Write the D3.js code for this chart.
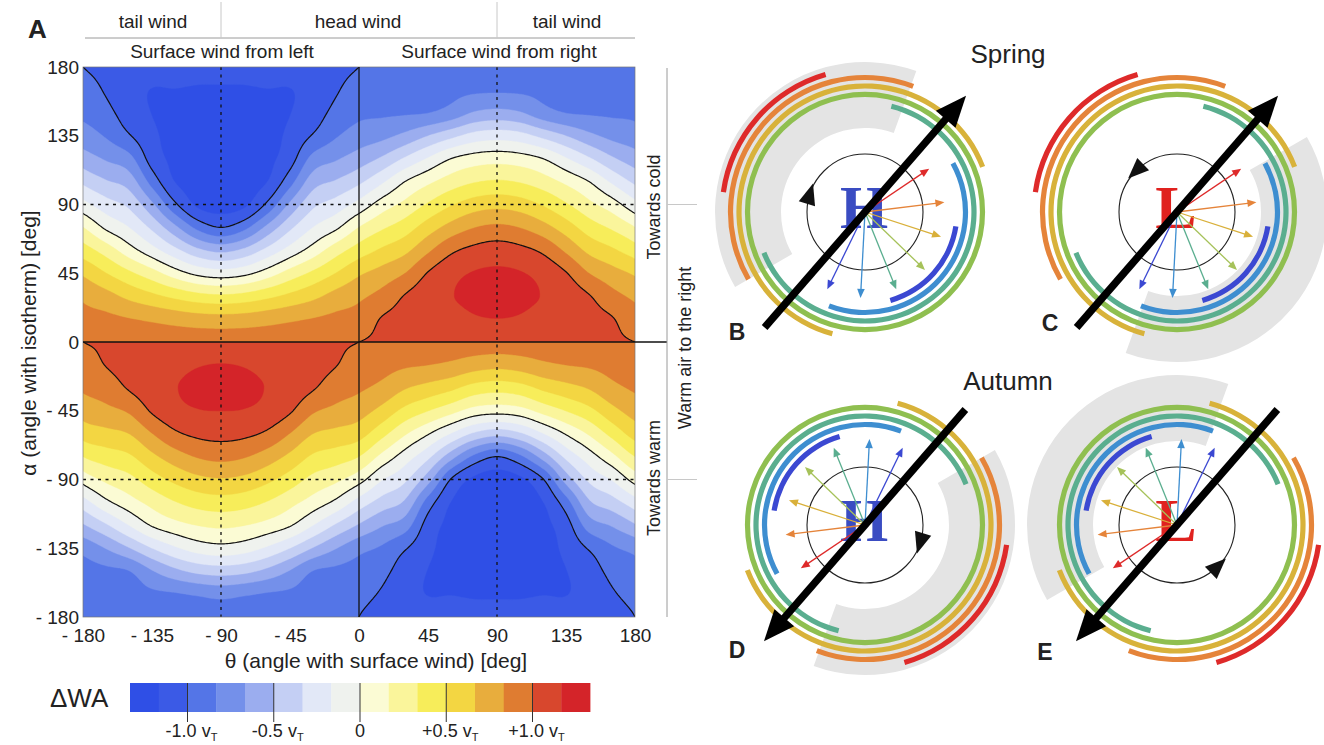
<!DOCTYPE html>
<html><head><meta charset="utf-8">
<script src="https://cdn.jsdelivr.net/npm/d3@7"></script>
<style>body{margin:0;background:#fff}svg{display:block}text{font-family:"Liberation Sans",Arial,sans-serif;fill:#222}</style>
</head><body><svg id="fig" width="1324" height="745"></svg>
<script>
// ---------------- DATA ----------------
const thetaTicks=[-180,-135,-90,-45,0,45,90,135,180];
const alphaTicks=[180,135,90,45,0,-45,-90,-135,-180];
const thetaGrid=d3.range(-180,181,15);           // 25 columns
const alphaGrid=[0,15,30,45,60,75,90,105,120,135,150,165,180];
// dWA (units of vT); one array per theta column, values at alpha = +alphaGrid (towards cold)
const dwaTowardsCold=[
[1.0,0.90,0.80,0.64,0.41,0.17,-0.11,-0.37,-0.59,-0.76,-0.87,-0.93,-1.00],
[0.975,0.874,0.726,0.503,0.258,-0.03,-0.263,-0.485,-0.685,-0.849,-0.951,-1.017,-1.05],
[0.96,0.839,0.623,0.366,0.072,-0.167,-0.373,-0.577,-0.78,-0.986,-1.08,-1.12,-1.10],
[0.943,0.805,0.539,0.233,-0.102,-0.371,-0.635,-0.898,-1.07,-1.13,-1.17,-1.17,-1.11],
[0.93,0.768,0.458,0.078,-0.287,-0.628,-0.97,-1.17,-1.21,-1.23,-1.21,-1.17,-1.11],
[0.923,0.739,0.389,-0.045,-0.464,-0.884,-1.2,-1.23,-1.255,-1.26,-1.235,-1.18,-1.125],
[0.92,0.729,0.361,-0.091,-0.545,-1.0,-1.24,-1.25,-1.265,-1.265,-1.24,-1.18,-1.13],
[0.923,0.739,0.389,-0.045,-0.464,-0.884,-1.2,-1.23,-1.255,-1.26,-1.235,-1.18,-1.125],
[0.93,0.768,0.458,0.078,-0.287,-0.628,-0.97,-1.17,-1.21,-1.23,-1.21,-1.17,-1.11],
[0.943,0.805,0.539,0.233,-0.102,-0.371,-0.635,-0.898,-1.07,-1.13,-1.17,-1.17,-1.11],
[0.96,0.839,0.623,0.366,0.072,-0.167,-0.373,-0.577,-0.78,-0.986,-1.08,-1.12,-1.10],
[0.975,0.874,0.726,0.503,0.258,-0.03,-0.263,-0.485,-0.685,-0.849,-0.951,-1.017,-1.05],
[1.0,0.90,0.80,0.64,0.41,0.17,-0.11,-0.37,-0.59,-0.76,-0.87,-0.93,-1.00],
[1.02,1.01,0.886,0.729,0.526,0.307,0.077,-0.197,-0.476,-0.713,-0.858,-0.916,-0.974],
[1.03,1.05,1.01,0.833,0.625,0.417,0.208,0.0,-0.313,-0.625,-0.85,-0.9,-0.95],
[1.047,1.1,1.1,1.01,0.804,0.582,0.351,0.13,-0.153,-0.502,-0.836,-0.884,-0.933],
[1.06,1.12,1.16,1.12,0.967,0.727,0.483,0.242,0.0,-0.384,-0.77,-0.873,-0.92],
[1.09,1.155,1.195,1.175,1.044,0.828,0.58,0.32,0.075,-0.273,-0.654,-0.86,-0.92],
[1.1,1.165,1.21,1.19,1.078,0.866,0.614,0.35,0.1,-0.238,-0.616,-0.855,-0.92],
[1.09,1.155,1.195,1.175,1.044,0.828,0.58,0.32,0.075,-0.273,-0.654,-0.86,-0.92],
[1.06,1.12,1.16,1.12,0.967,0.727,0.483,0.242,0.0,-0.384,-0.77,-0.873,-0.92],
[1.047,1.1,1.1,1.01,0.804,0.582,0.351,0.13,-0.153,-0.502,-0.836,-0.884,-0.933],
[1.03,1.05,1.01,0.833,0.625,0.417,0.208,0.0,-0.313,-0.625,-0.85,-0.9,-0.95],
[1.02,1.01,0.886,0.729,0.526,0.307,0.077,-0.197,-0.476,-0.713,-0.858,-0.916,-0.974],
[1.0,0.90,0.80,0.64,0.41,0.17,-0.11,-0.37,-0.59,-0.76,-0.87,-0.93,-1.00]];
// values at alpha = -alphaGrid (towards warm)
const dwaTowardsWarm=[
[1.0,0.93,0.857,0.735,0.564,0.333,0.063,-0.241,-0.519,-0.784,-0.9,-0.96,-1.0],
[1.016,1.005,0.911,0.79,0.617,0.415,0.2,-0.041,-0.357,-0.661,-0.87,-0.93,-0.96],
[1.04,1.06,1.015,0.855,0.667,0.474,0.283,0.095,-0.167,-0.511,-0.837,-0.9,-0.92],
[1.065,1.1,1.1,1.02,0.829,0.626,0.421,0.216,0.014,-0.335,-0.679,-0.864,-0.92],
[1.084,1.13,1.16,1.12,0.971,0.755,0.54,0.323,0.108,-0.193,-0.546,-0.847,-0.92],
[1.096,1.16,1.2,1.16,1.035,0.846,0.622,0.398,0.17,-0.093,-0.459,-0.815,-0.92],
[1.1,1.17,1.21,1.167,1.053,0.879,0.652,0.424,0.197,-0.056,-0.428,-0.786,-0.92],
[1.096,1.16,1.2,1.16,1.035,0.846,0.622,0.398,0.17,-0.093,-0.459,-0.815,-0.92],
[1.084,1.13,1.16,1.12,0.971,0.755,0.54,0.323,0.108,-0.193,-0.546,-0.847,-0.92],
[1.065,1.1,1.1,1.02,0.829,0.626,0.421,0.216,0.014,-0.335,-0.679,-0.864,-0.92],
[1.04,1.06,1.015,0.855,0.667,0.474,0.283,0.095,-0.167,-0.511,-0.837,-0.9,-0.92],
[1.016,1.005,0.911,0.79,0.617,0.415,0.2,-0.041,-0.357,-0.661,-0.87,-0.93,-0.96],
[1.0,0.93,0.857,0.735,0.564,0.333,0.063,-0.241,-0.519,-0.784,-0.9,-0.96,-1.0],
[0.974,0.893,0.79,0.613,0.385,0.118,-0.157,-0.405,-0.655,-0.857,-0.954,-1.017,-1.05],
[0.96,0.854,0.679,0.45,0.185,-0.08,-0.303,-0.53,-0.758,-0.985,-1.08,-1.12,-1.1],
[0.943,0.834,0.608,0.337,0.014,-0.293,-0.599,-0.907,-1.07,-1.13,-1.17,-1.17,-1.11],
[0.93,0.8,0.536,0.221,-0.175,-0.599,-1.01,-1.17,-1.21,-1.23,-1.21,-1.17,-1.11],
[0.923,0.743,0.433,0.099,-0.36,-0.869,-1.2,-1.23,-1.255,-1.26,-1.235,-1.18,-1.125],
[0.92,0.714,0.396,0.063,-0.444,-1.0,-1.24,-1.25,-1.265,-1.265,-1.24,-1.18,-1.13],
[0.923,0.743,0.433,0.099,-0.36,-0.869,-1.2,-1.23,-1.255,-1.26,-1.235,-1.18,-1.125],
[0.93,0.8,0.536,0.221,-0.175,-0.599,-1.01,-1.17,-1.21,-1.23,-1.21,-1.17,-1.11],
[0.943,0.834,0.608,0.337,0.014,-0.293,-0.599,-0.907,-1.07,-1.13,-1.17,-1.17,-1.11],
[0.96,0.854,0.679,0.45,0.185,-0.08,-0.303,-0.53,-0.758,-0.985,-1.08,-1.12,-1.1],
[0.974,0.893,0.79,0.613,0.385,0.118,-0.157,-0.405,-0.655,-0.857,-0.954,-1.017,-1.05],
[1.0,0.93,0.857,0.735,0.564,0.333,0.063,-0.241,-0.519,-0.784,-0.9,-0.96,-1.0]];
const bandColors=["#2f4fe6","#3b5ae6","#5475e7","#7490ea","#9badef","#c4cff4","#e2e8f7","#eff2ee","#fbfbd4","#faf59b","#f7ed5a","#f3d642","#e8ad3d","#df7c31","#d8472d","#d42429"];
const colorbarTicks=[-1,-0.5,0,0.5,1];
const colorbarLabels=["-1.0 v","-0.5 v","0","+0.5 v","+1.0 v"];
// diagrams
const ringColors=["#3b48d2","#3e8ed0","#5aae8f","#8fbf50","#d8b23a","#e5843a","#de2a2a"];
const arrowColors=["#3b48d2","#3e8ed0","#5aae8f","#a6c25a","#d9b03a","#e5843a","#de2a2a"];
const springRingFrom=[-74,-111,-158,0,21,69,106];
const springRingTo=[-9,29,76,360,255,210,172];
const autumnRingFrom=[106,69,22,0,201,249,286];
const autumnRingTo=[171,209,256,360,435,390,352];
const springArrowDir=[-116,-93,-68,-44,-18,7,34];
const autumnArrowDir=[64,87,112,136,162,187,214];
const arrowMag=[1.0,1.0,0.97,0.97,0.93,0.93,0.9];
const flightDir={spring:49,autumn:229};
const panelInfo=[
 {id:"B",season:"spring",letter:"H",grayFrom:70,grayTo:210,spin:"cw",spinAt:163},
 {id:"C",season:"spring",letter:"L",grayFrom:-110,grayTo:30,spin:"ccw",spinAt:134},
 {id:"D",season:"autumn",letter:"H",grayFrom:-110,grayTo:30,spin:"cw",spinAt:343},
 {id:"E",season:"autumn",letter:"L",grayFrom:70,grayTo:210,spin:"ccw",spinAt:314}];

// ---------------- LAYOUT ----------------
const W=1324,H=745;
const P={left:83,right:635,top:67,bottom:617};
const layout={B:[865,212,737,340],C:[1177,212,1050,331],D:[865,525,737,658],E:[1177,525,1045,660]};
const svg=d3.select("#fig");
svg.append("rect").attr("width",W).attr("height",H).attr("fill","#fff");
const x=d3.scaleLinear().domain([-180,180]).range([P.left,P.right]);
const y=d3.scaleLinear().domain([-180,180]).range([P.bottom,P.top]);

// smooth (Catmull-Rom) resampling of the read grid
const cr=(p0,p1,p2,p3,t)=>0.5*(2*p1+(-p0+p2)*t+(2*p0-5*p1+4*p2-p3)*t*t+(-p0+3*p1-3*p2+p3)*t*t*t);
function sample(cols,th,a){
  const dT=thetaGrid[1]-thetaGrid[0],dA=alphaGrid[1]-alphaGrid[0];
  const nC=thetaGrid.length-1,nR=alphaGrid.length-1;
  const u=(th-thetaGrid[0])/dT;let j=Math.min(Math.floor(u),nC-1);const tu=u-j;
  const v=(a-alphaGrid[0])/dA;let i=Math.min(Math.floor(v),nR-1);const tv=v-i;
  const c=k=>((k%nC)+nC)%nC,r=k=>Math.max(0,Math.min(nR,k));
  const rv=rr=>cr(cols[c(j-1)][rr],cols[c(j)][rr],cols[c(j+1)][rr],cols[c(j+2)][rr],tu);
  return cr(rv(r(i-1)),rv(r(i)),rv(r(i+1)),rv(r(i+2)),tv);
}
const NX=361,NY=181;
function field(cols,alphaOfRow){const v=new Float64Array(NX*NY);for(let k=0;k<NY;k++){const a=alphaOfRow(k);for(let i=0;i<NX;i++)v[k*NX+i]=sample(cols,-180+i*360/(NX-1),a);}return v;}
const upperVals=field(dwaTowardsCold,k=>180-k*180/(NY-1));
const lowerVals=field(dwaTowardsWarm,k=>k*180/(NY-1));
const levels=d3.range(-7,8).map(k=>k/6);
const defs=svg.append("defs");
defs.append("clipPath").attr("id","cu").append("rect").attr("x",P.left).attr("y",P.top).attr("width",P.right-P.left).attr("height",y(0)-P.top);
defs.append("clipPath").attr("id","cl").append("rect").attr("x",P.left).attr("y",y(0)).attr("width",P.right-P.left).attr("height",P.bottom-y(0));
const gxs=d3.scaleLinear().domain([0.5,NX-0.5]).range([x(-180),x(180)]);
function drawHalf(vals,ys,clip){
  const g=svg.append("g").attr("clip-path",`url(#${clip})`);
  const path=d3.geoPath(d3.geoTransform({point(px,py){this.stream.point(gxs(px),ys(py));}}));
  g.append("rect").attr("x",P.left).attr("y",P.top).attr("width",P.right-P.left).attr("height",P.bottom-P.top).attr("fill",bandColors[0]);
  g.selectAll("path.band").data(d3.contours().size([NX,NY]).thresholds(levels)(vals)).join("path").attr("class","band").attr("d",path).attr("fill",(d,i)=>bandColors[i+1]).attr("stroke",(d,i)=>bandColors[i+1]).attr("stroke-width",0.4);
  const cg=d3.contours().size([NX,NY]);
  g.selectAll("path.iso").data([-1,0,1].map(t=>cg.contour(vals,t))).join("path").attr("class","iso").attr("d",path).attr("fill","none").attr("stroke","#111").attr("stroke-width",1.2);
}
drawHalf(upperVals,d3.scaleLinear().domain([0.5,NY-0.5]).range([y(180),y(0)]),"cu");
drawHalf(lowerVals,d3.scaleLinear().domain([0.5,NY-0.5]).range([y(0),y(-180)]),"cl");

// reference lines
const dash="3,4.5";
[-90,90].forEach(t=>svg.append("line").attr("x1",x(t)).attr("x2",x(t)).attr("y1",P.top).attr("y2",P.bottom).attr("stroke","#111").attr("stroke-width",1.3).attr("stroke-dasharray",dash));
[-90,90].forEach(a=>svg.append("line").attr("x1",P.left).attr("x2",P.right).attr("y1",y(a)).attr("y2",y(a)).attr("stroke","#111").attr("stroke-width",1.3).attr("stroke-dasharray",dash));
svg.append("rect").attr("x",P.left).attr("y",P.top).attr("width",P.right-P.left).attr("height",P.bottom-P.top).attr("fill","none").attr("stroke","#777").attr("stroke-width",0.7);
svg.append("line").attr("x1",P.left).attr("x2",667).attr("y1",y(0)).attr("y2",y(0)).attr("stroke","#111").attr("stroke-width",1.4);
svg.append("line").attr("x1",x(0)).attr("x2",x(0)).attr("y1",P.top).attr("y2",P.bottom).attr("stroke","#111").attr("stroke-width",1.3);

// axes
const fmt=d=>d<0?"- "+Math.abs(d):String(d);
const ax=svg.append("g").attr("transform",`translate(0,${P.bottom})`).call(d3.axisBottom(x).tickValues(thetaTicks).tickFormat(fmt).tickSize(0).tickPadding(12));
ax.select(".domain").remove();
ax.selectAll("text").attr("font-size",19).style("fill","#222");
const ay=svg.append("g").attr("transform",`translate(${P.left},0)`).call(d3.axisLeft(y).tickValues(alphaTicks).tickFormat(fmt).tickSize(0).tickPadding(4));
ay.select(".domain").remove();
ay.selectAll("text").attr("font-size",19).style("fill","#222");
svg.append("text").attr("x",376).attr("y",668).attr("text-anchor","middle").attr("font-size",21).text("θ (angle with surface wind) [deg]");
svg.append("text").attr("transform","translate(36,343) rotate(-90)").attr("text-anchor","middle").attr("font-size",21).text("α (angle with isotherm) [deg]");

// header
svg.append("text").attr("x",28).attr("y",38).attr("font-size",26).attr("font-weight","bold").text("A");
const gray="#9a9a9a";
svg.append("line").attr("x1",P.left+2).attr("x2",P.right).attr("y1",38).attr("y2",38).attr("stroke",gray).attr("stroke-width",1);
[-90,90].forEach(t=>svg.append("line").attr("x1",x(t)).attr("x2",x(t)).attr("y1",2).attr("y2",38).attr("stroke","#c8c8c8").attr("stroke-width",1));
[["tail wind",153],["head wind",358],["tail wind",567]].forEach(([s,cx])=>svg.append("text").attr("x",cx).attr("y",28).attr("text-anchor","middle").attr("font-size",19).text(s));
[["Surface wind from left",222],["Surface wind from right",499]].forEach(([s,cx])=>svg.append("text").attr("x",cx).attr("y",58).attr("text-anchor","middle").attr("font-size",19).text(s));

// right bracket
svg.append("line").attr("x1",667).attr("x2",667).attr("y1",68).attr("y2",617).attr("stroke",gray).attr("stroke-width",1);
[90,-90].forEach(a=>svg.append("line").attr("x1",667).attr("x2",697).attr("y1",y(a)).attr("y2",y(a)).attr("stroke","#c8c8c8").attr("stroke-width",1));
svg.append("text").attr("transform","translate(660,207) rotate(-90)").attr("text-anchor","middle").attr("font-size",18).text("Towards cold");
svg.append("text").attr("transform","translate(660,478) rotate(-90)").attr("text-anchor","middle").attr("font-size",18).text("Towards warm");
svg.append("text").attr("transform","translate(691,348) rotate(-90)").attr("text-anchor","middle").attr("font-size",18).text("Warm air to the right");

// colorbar
const cb=d3.scaleLinear().domain([-8/6,8/6]).range([130,590]);
svg.selectAll("rect.cb").data(bandColors).join("rect").attr("class","cb").attr("x",(d,i)=>cb(-8/6+i/6)).attr("y",683).attr("width",cb(1/6)-cb(0)+0.4).attr("height",29).attr("fill",d=>d);
svg.selectAll("line.cbt").data(colorbarTicks).join("line").attr("class","cbt").attr("x1",d=>cb(d)).attr("x2",d=>cb(d)).attr("y1",683).attr("y2",722).attr("stroke","#333").attr("stroke-width",1);
colorbarTicks.forEach((v,i)=>{
  const lab=colorbarLabels[i];
  const t=svg.append("text").attr("x",cb(v)+(lab.length>1?4:0)).attr("y",737).attr("text-anchor","middle").attr("font-size",18);
  t.append("tspan").text(lab);
  if(lab.length>1)t.append("tspan").attr("font-size",11).attr("dy",4).text("T");
});
svg.append("text").attr("x",50).attr("y",707).attr("font-size",26).text("ΔWA");

// season titles
svg.append("text").attr("x",1008).attr("y",63).attr("text-anchor","middle").attr("font-size",26).text("Spring");
svg.append("text").attr("x",1008).attr("y",390).attr("text-anchor","middle").attr("font-size",26).text("Autumn");

// diagrams
const toRad=d=>d*Math.PI/180;
const arcGen=d3.arc();
const arcPath=(r0,r1,from,to)=>arcGen({innerRadius:r0,outerRadius:r1,startAngle:toRad(90-to),endAngle:toRad(90-from)});
const unit=deg=>[Math.cos(toRad(deg)),-Math.sin(toRad(deg))];
const ringR=d3.scaleLinear().domain([0,6]).range([92,143]);
const arrowLen=d3.scaleLinear().domain([0,1]).range([0,86]);
panelInfo.forEach(p=>{
  const [cx,cy,lx,ly]=layout[p.id];
  const from=p.season==="spring"?springRingFrom:autumnRingFrom;
  const to=p.season==="spring"?springRingTo:autumnRingTo;
  const dirs=p.season==="spring"?springArrowDir:autumnArrowDir;
  const g=svg.append("g").attr("transform",`translate(${cx},${cy})`);
  g.append("path").attr("d",arcPath(84,150,p.grayFrom,p.grayTo)).attr("fill","#e4e4e4");
  ringColors.forEach((c,i)=>g.append("path").attr("d",arcPath(ringR(i)-2.6,ringR(i)+2.6,from[i],to[i])).attr("fill",c));
  g.append("circle").attr("r",58).attr("fill","none").attr("stroke","#222").attr("stroke-width",1.1);
  const ph=toRad(p.spinAt),p0=[58*Math.cos(ph),-58*Math.sin(ph)];
  const t=p.spin==="cw"?[Math.sin(ph),Math.cos(ph)]:[-Math.sin(ph),-Math.cos(ph)];
  const n=[-t[1],t[0]];
  const tip=[p0[0]+t[0]*12,p0[1]+t[1]*12],bs=[p0[0]-t[0]*9,p0[1]-t[1]*9];
  g.append("path").attr("d",`M${tip}L${bs[0]+n[0]*8.5},${bs[1]+n[1]*8.5}L${bs[0]-n[0]*8.5},${bs[1]-n[1]*8.5}Z`).attr("fill","#111");
  g.append("text").attr("text-anchor","middle").attr("x",-1).attr("y",16).style("font-family","'Liberation Serif','Times New Roman',serif").attr("font-weight","bold").attr("font-size",62).style("fill",p.letter==="H"?"#3a4cc2":"#e0221f").text(p.letter);
  dirs.forEach((a,i)=>{
    const u=unit(a),L=arrowLen(arrowMag[i]),nn=[-u[1],u[0]];
    g.append("line").attr("x1",0).attr("y1",0).attr("x2",u[0]*(L-7)).attr("y2",u[1]*(L-7)).attr("stroke",arrowColors[i]).attr("stroke-width",1.3);
    const b=[u[0]*(L-9),u[1]*(L-9)];
    g.append("path").attr("d",`M${u[0]*L},${u[1]*L}L${b[0]+nn[0]*3.8},${b[1]+nn[1]*3.8}L${b[0]-nn[0]*3.8},${b[1]-nn[1]*3.8}Z`).attr("fill",arrowColors[i]);
  });
  const fd=unit(flightDir[p.season]),fn=[-fd[1],fd[0]];
  g.append("line").attr("x1",-fd[0]*153).attr("y1",-fd[1]*153).attr("x2",fd[0]*127).attr("y2",fd[1]*127).attr("stroke","#000").attr("stroke-width",7.5);
  const hb=[fd[0]*123,fd[1]*123];
  g.append("path").attr("d",`M${fd[0]*154},${fd[1]*154}L${hb[0]+fn[0]*13},${hb[1]+fn[1]*13}L${hb[0]-fn[0]*13},${hb[1]-fn[1]*13}Z`).attr("fill","#000");
  svg.append("text").attr("x",lx).attr("y",ly).attr("text-anchor","middle").attr("font-size",23).attr("font-weight","bold").text(p.id);
});
</script></body></html>
